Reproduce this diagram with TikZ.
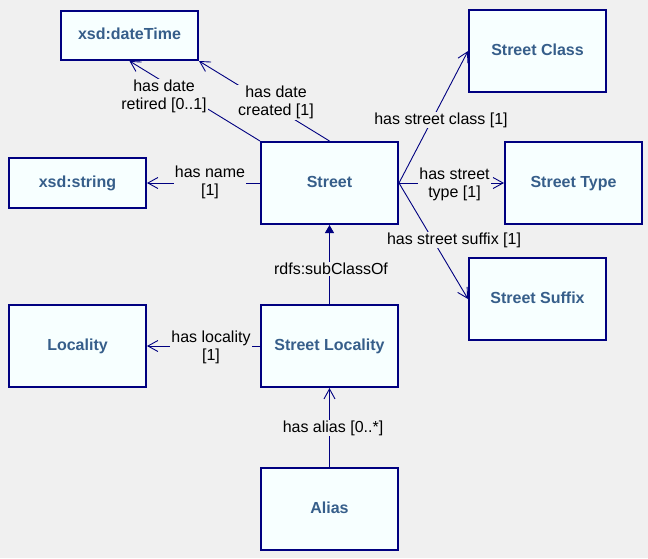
\documentclass[tikz,border=0pt]{standalone}
\usepackage{fontspec}
\setmainfont{Liberation Sans}
\usetikzlibrary{arrows.meta}
\definecolor{bggray}{HTML}{F0F0F0}
\definecolor{boxfill}{HTML}{F7FFFF}
\definecolor{navy}{HTML}{000080}
\definecolor{classtext}{HTML}{365E8A}
\begin{document}
\begin{tikzpicture}[x=1pt,y=-1pt,
  cls/.style={draw=navy, fill=boxfill, line width=2pt, minimum width=137pt, minimum height=82pt, inner sep=0pt, text height=11.5pt, text depth=3.5pt, text=classtext, font=\fontsize{16}{18}\selectfont\bfseries},
  dtype/.style={cls, minimum height=49pt},
  rel/.style={draw=navy, line width=0.9pt, -{Straight Barb[length=10pt,width=11pt]}},
  subrel/.style={draw=navy, line width=0.9pt, -{Triangle[length=8pt,width=9pt]}},
  lbl/.style={fill=bggray, inner sep=1pt, align=center, font=\fontsize{16}{18}\selectfont}]
\useasboundingbox[fill=bggray] (0,0) rectangle (648,558);

\node[dtype] (datetime) at (129.5,35.5) {xsd:dateTime};
\node[dtype, minimum height=50pt] (string) at (77.5,183) {xsd:string};
\node[cls] (street) at (329.5,183) {Street};
\node[cls] (streetclass) at (537.5,51) {Street Class};
\node[cls] (streettype) at (573.5,183) {Street Type};
\node[cls] (streetsuffix) at (537.5,299) {Street Suffix};
\node[cls] (locality) at (77.5,346) {Locality};
\node[cls] (streetlocality) at (329.5,346) {Street Locality};
\node[cls] (alias) at (329.5,509) {Alias};

\draw[rel] (street.north west) -- (datetime.south);
\draw[rel] (street.north) -- (datetime.south east);
\draw[rel] (street.west) -- (string.east);
\draw[rel] (street.east) -- (streetclass.west);
\draw[rel] (street.east) -- (streettype.west);
\draw[rel] (street.east) -- (streetsuffix.west);
\draw[subrel] (streetlocality.north) -- (street.south);
\draw[rel] (streetlocality.west) -- (locality.east);
\draw[rel] (alias.north) -- (streetlocality.south);

\node[lbl] (retiredlbl) at (164,96.5) {has date\\retired [0..1]};
\node[lbl] (createdlbl) at (276,102.5) {has date\\created [1]};
\node[lbl] (namelbl) at (210,182.5) {has name\\{[1]}};
\node[lbl] (classlbl) at (441,120) {has street class [1]};
\node[lbl] (typelbl) at (454.5,184) {has street\\type [1]};
\node[lbl] (suffixlbl) at (454,240) {has street suffix [1]};
\node[lbl] (subclasslbl) at (331,269) {rdfs:subClassOf};
\node[lbl] (localitylbl) at (211,347.5) {has locality\\{[1]}};
\node[lbl] (aliaslbl) at (333,428) {has alias [0..*]};

\end{tikzpicture}
\end{document}
